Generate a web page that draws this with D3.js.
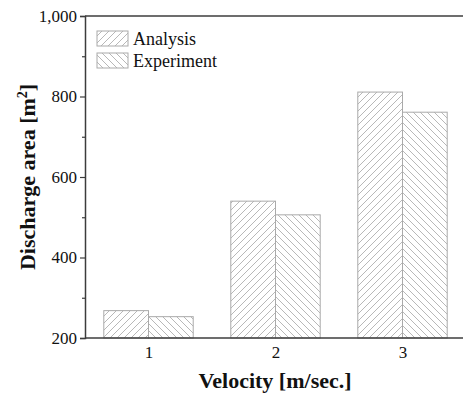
<!DOCTYPE html>
<html><head><meta charset="utf-8">
<script src="https://cdn.jsdelivr.net/npm/d3@7"></script>
<style>body{margin:0;background:#fff;} svg{display:block;}</style>
</head><body>
<svg id="c" width="463" height="399"></svg>
<script>
const categories = [1, 2, 3];
const analysis = [268, 540, 811];
const experiment = [253, 506, 761];
const seriesNames = ["Analysis", "Experiment"];
const yTicks = [200, 400, 600, 800, 1000];
const yMinor = [300, 500, 700, 900];

(function () {
const svg = d3.select("#c");
const W = 463;
const mLeft = 85, mTop = 16, mBottom = 338;
const x = d3.scaleLinear().domain([0.5, 3.5]).range([mLeft, mLeft + 3 * 127]);
const y = d3.scaleLinear().domain([200, 1000]).range([mBottom, mTop]);
const bw = 0.352;

const defs = svg.append("defs");
function hatch(id, dir) {
  const p = defs.append("pattern").attr("id", id).attr("patternUnits", "userSpaceOnUse")
    .attr("width", 7).attr("height", 7);
  const d = dir > 0 ? "M0,7 L7,0 M-2,2 L2,-2 M5,9 L9,5" : "M0,0 L7,7 M-2,5 L2,9 M5,-2 L9,2";
  p.append("path").attr("d", d).attr("stroke", "#b8b8b8").attr("stroke-width", 1).attr("fill", "none");
}
hatch("hA", 1);
hatch("hE", -1);

const font = "'Liberation Serif','Times New Roman',serif";

const g = svg.append("g");
g.selectAll("rect.a").data(categories).enter().append("rect")
  .attr("x", (d) => x(d - bw)).attr("width", (d) => x(d) - x(d - bw))
  .attr("y", (d, i) => y(analysis[i])).attr("height", (d, i) => y(200) - y(analysis[i]))
  .attr("fill", "url(#hA)").attr("stroke", "#aaaaaa").attr("stroke-width", 1);
g.selectAll("rect.e").data(categories).enter().append("rect")
  .attr("x", (d) => x(d)).attr("width", (d) => x(d + bw) - x(d))
  .attr("y", (d, i) => y(experiment[i])).attr("height", (d, i) => y(200) - y(experiment[i]))
  .attr("fill", "url(#hE)").attr("stroke", "#aaaaaa").attr("stroke-width", 1);

const axisColor = "#3c3c3c";
svg.append("line").attr("x1", mLeft).attr("x2", W).attr("y1", mTop).attr("y2", mTop)
  .attr("stroke", axisColor).attr("stroke-width", 1.5);
svg.append("line").attr("x1", mLeft).attr("x2", W).attr("y1", mBottom).attr("y2", mBottom)
  .attr("stroke", axisColor).attr("stroke-width", 1.5);

const yAxis = d3.axisLeft(y).tickValues(yTicks).tickSize(5).tickPadding(3)
  .tickFormat(d3.format(","));
const ya = svg.append("g").attr("transform", `translate(${mLeft},0)`).call(yAxis);
ya.select(".domain").attr("stroke", axisColor).attr("stroke-width", 1.5);
ya.selectAll(".tick line").attr("stroke", axisColor).attr("stroke-width", 1.2);
ya.selectAll(".tick text").attr("font-family", font).attr("font-size", 17).attr("fill", "#111");
const yAxisMinor = d3.axisLeft(y).tickValues(yMinor).tickSize(3).tickFormat("");
const ym = svg.append("g").attr("transform", `translate(${mLeft},0)`).call(yAxisMinor);
ym.select(".domain").remove();
ym.selectAll(".tick line").attr("stroke", axisColor).attr("stroke-width", 1.2);

const xAxis = d3.axisBottom(x).tickValues(categories).tickSize(0).tickPadding(8).tickFormat(d3.format("d"));
const xa = svg.append("g").attr("transform", `translate(0,${mBottom})`).call(xAxis);
xa.select(".domain").remove();
xa.selectAll(".tick text").attr("font-family", font).attr("font-size", 17).attr("fill", "#111");

svg.append("text").attr("x", 275).attr("y", 388).attr("text-anchor", "middle")
  .attr("font-family", font).attr("font-size", 22).attr("font-weight", "bold").attr("fill", "#111")
  .text("Velocity [m/sec.]");
const yt = svg.append("text").attr("transform", "translate(35,177) rotate(-90)").attr("text-anchor", "middle")
  .attr("font-family", font).attr("font-size", 22).attr("font-weight", "bold").attr("fill", "#111");
yt.append("tspan").text("Discharge area [m");
yt.append("tspan").attr("dy", -8).attr("font-size", 14).text("2");
yt.append("tspan").attr("dy", 8).text("]");

const leg = svg.append("g");
const legPat = ["url(#hA)", "url(#hE)"];
seriesNames.forEach((name, i) => {
  const yy = 31 + i * 22;
  leg.append("rect").attr("x", 97).attr("y", yy).attr("width", 31).attr("height", 15)
    .attr("fill", legPat[i]).attr("stroke", "#aaaaaa").attr("stroke-width", 1);
  leg.append("text").attr("x", 133).attr("y", yy + 14).attr("font-family", font)
    .attr("font-size", 18).attr("fill", "#111").text(name);
});
})();
</script>
</body></html>
